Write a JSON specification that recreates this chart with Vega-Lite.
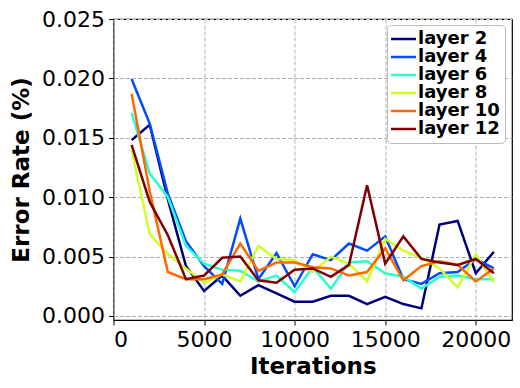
{
  "$schema": "https://vega.github.io/schema/vega-lite/v6.json",
  "autosize": {"type": "none"},
  "width": 398.5,
  "height": 301,
  "padding": {"left": 113.5, "top": 19, "right": 8, "bottom": 68},
  "background": "white",
  "config": {
    "view": {"stroke": "black", "strokeWidth": 1.2},
    "font": "DejaVu Sans",
    "axis": {
      "domain": false,
      "grid": true,
      "gridColor": "#b0b0b0",
      "gridDash": [4, 2],
      "gridWidth": 1,
      "tickColor": "black",
      "tickSize": 5,
      "tickWidth": 1,
      "labelFont": "DejaVu Sans",
      "labelFontSize": 22,
      "labelColor": "black",
      "labelPadding": 4,
      "titleFont": "DejaVu Sans",
      "titleFontSize": 23,
      "titleFontWeight": "bold",
      "titleColor": "black"
    }
  },
  "data": {
    "values": [
      {"it": 1000, "layer 2": 0.0148, "layer 4": 0.01995, "layer 6": 0.0171, "layer 8": 0.0140, "layer 10": 0.0187, "layer 12": 0.0144},
      {"it": 2000, "layer 2": 0.0161, "layer 4": 0.0162, "layer 6": 0.0120, "layer 8": 0.0069, "layer 10": 0.0105, "layer 12": 0.0096},
      {"it": 3000, "layer 2": 0.0098, "layer 4": 0.0103, "layer 6": 0.0100, "layer 8": 0.0052, "layer 10": 0.0037, "layer 12": 0.0068},
      {"it": 4000, "layer 2": 0.0042, "layer 4": 0.0063, "layer 6": 0.0059, "layer 8": 0.0040, "layer 10": 0.0031, "layer 12": 0.0031},
      {"it": 5000, "layer 2": 0.0021, "layer 4": 0.0042, "layer 6": 0.0044, "layer 8": 0.0028, "layer 10": 0.0031, "layer 12": 0.0034},
      {"it": 6000, "layer 2": 0.0034, "layer 4": 0.0027, "layer 6": 0.0039, "layer 8": 0.0035, "layer 10": 0.0035, "layer 12": 0.0049},
      {"it": 7000, "layer 2": 0.0017, "layer 4": 0.0082, "layer 6": 0.0038, "layer 8": 0.0029, "layer 10": 0.0061, "layer 12": 0.0050},
      {"it": 8000, "layer 2": 0.0026, "layer 4": 0.0031, "layer 6": 0.0029, "layer 8": 0.0059, "layer 10": 0.0038, "layer 12": 0.0030},
      {"it": 9000, "layer 2": 0.0019, "layer 4": 0.0053, "layer 6": 0.0034, "layer 8": 0.0048, "layer 10": 0.0045, "layer 12": 0.0028},
      {"it": 10000, "layer 2": 0.0012, "layer 4": 0.0025, "layer 6": 0.0020, "layer 8": 0.0047, "layer 10": 0.0045, "layer 12": 0.0039},
      {"it": 11000, "layer 2": 0.0012, "layer 4": 0.0052, "layer 6": 0.0041, "layer 8": 0.0037, "layer 10": 0.0041, "layer 12": 0.0040},
      {"it": 12000, "layer 2": 0.0017, "layer 4": 0.0047, "layer 6": 0.0023, "layer 8": 0.0050, "layer 10": 0.0040, "layer 12": 0.0033},
      {"it": 13000, "layer 2": 0.0017, "layer 4": 0.0061, "layer 6": 0.0045, "layer 8": 0.0044, "layer 10": 0.0034, "layer 12": 0.0043},
      {"it": 14000, "layer 2": 0.0010, "layer 4": 0.0055, "layer 6": 0.0046, "layer 8": 0.0029, "layer 10": 0.0037, "layer 12": 0.0110},
      {"it": 15000, "layer 2": 0.0016, "layer 4": 0.0067, "layer 6": 0.0036, "layer 8": 0.0065, "layer 10": 0.0057, "layer 12": 0.0044},
      {"it": 16000, "layer 2": 0.0010, "layer 4": 0.0031, "layer 6": 0.0033, "layer 8": 0.0055, "layer 10": 0.0030, "layer 12": 0.0067},
      {"it": 17000, "layer 2": 0.00064, "layer 4": 0.0027, "layer 6": 0.0023, "layer 8": 0.0049, "layer 10": 0.0042, "layer 12": 0.0048},
      {"it": 18000, "layer 2": 0.0077, "layer 4": 0.0036, "layer 6": 0.0033, "layer 8": 0.0040, "layer 10": 0.0046, "layer 12": 0.0045},
      {"it": 19000, "layer 2": 0.0080, "layer 4": 0.0037, "layer 6": 0.0034, "layer 8": 0.0024, "layer 10": 0.0043, "layer 12": 0.0043},
      {"it": 20000, "layer 2": 0.0036, "layer 4": 0.0048, "layer 6": 0.0031, "layer 8": 0.0052, "layer 10": 0.0029, "layer 12": 0.0048},
      {"it": 21000, "layer 2": 0.0054, "layer 4": 0.0040, "layer 6": 0.0031, "layer 8": 0.0028, "layer 10": 0.0040, "layer 12": 0.0036}
    ]
  },
  "transform": [
    {"fold": ["layer 2", "layer 4", "layer 6", "layer 8", "layer 10", "layer 12"], "as": ["layer", "err"]}
  ],
  "mark": {"type": "line", "strokeWidth": 2.5, "clip": true},
  "encoding": {
    "x": {
      "field": "it",
      "type": "quantitative",
      "scale": {"domain": [0, 22000], "nice": false, "zero": false},
      "axis": {"values": [0, 5000, 10000, 15000, 20000], "format": "d", "title": "Iterations", "titlePadding": 5}
    },
    "y": {
      "field": "err",
      "type": "quantitative",
      "scale": {"domain": [-0.00034, 0.025], "nice": false, "zero": false},
      "axis": {"values": [0, 0.005, 0.01, 0.015, 0.02, 0.025], "format": ".3f", "title": "Error Rate (%)", "titlePadding": 8}
    },
    "color": {
      "field": "layer",
      "type": "nominal",
      "scale": {
        "domain": ["layer 2", "layer 4", "layer 6", "layer 8", "layer 10", "layer 12"],
        "range": ["#00007f", "#004cff", "#29ffce", "#ceff29", "#ff6800", "#7f0000"]
      },
      "legend": {
        "orient": "none",
        "legendX": 273.5,
        "legendY": 6,
        "title": null,
        "symbolType": "M-2,0H3",
        "symbolSize": 100,
        "symbolStrokeWidth": 2.5,
        "labelFont": "DejaVu Sans",
        "labelFontWeight": "bold",
        "labelFontSize": 18,
        "labelColor": "black",
        "labelOffset": 8,
        "rowPadding": -1,
        "padding": 5,
        "fillColor": "white",
        "strokeColor": "#bbbbbb",
        "cornerRadius": 4
      }
    }
  }
}
